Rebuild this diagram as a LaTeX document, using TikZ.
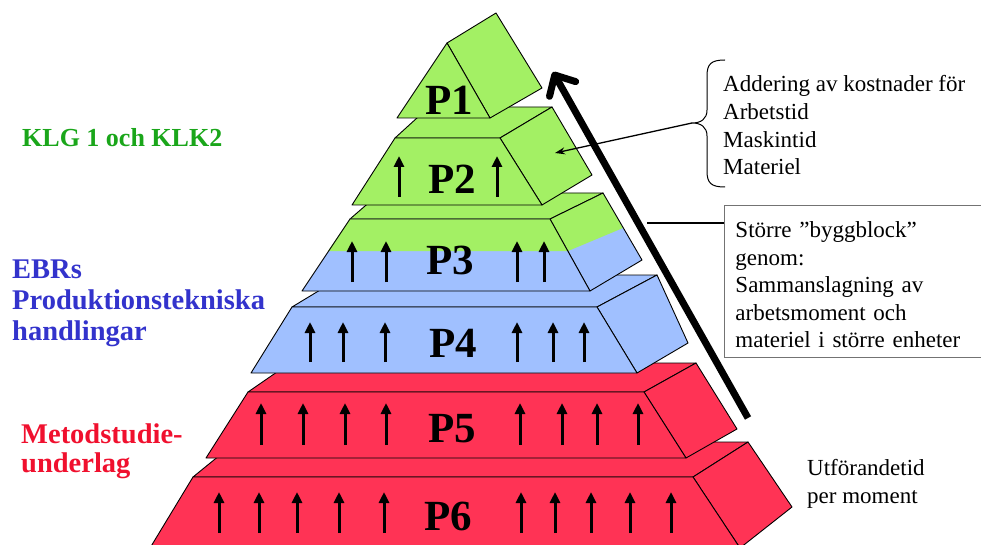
\documentclass[tikz,border=0pt]{standalone}
\usepackage{fontspec}
\setmainfont{Liberation Serif}
\usetikzlibrary{arrows.meta}
\definecolor{pgreen}{HTML}{A3F064}
\definecolor{pblue}{HTML}{A0C0FF}
\definecolor{pred}{HTML}{FF3355}
\definecolor{tgreen}{HTML}{1AA61A}
\definecolor{tblue}{HTML}{3333CC}
\definecolor{tred}{HTML}{F0102E}
\begin{document}
\begin{tikzpicture}[x=1pt,y=-1pt,
  face/.style={draw=black,line width=0.9pt,line join=round},
  uparrow/.style={line width=3pt,-{Triangle[length=11pt,width=10pt]}},
  plabel/.style={font=\fontsize{43}{43}\selectfont\bfseries,inner sep=0pt},
  sidelbl/.style={font=\fontsize{28.5}{31}\selectfont\bfseries,inner sep=0pt,align=left,anchor=base west},
  note/.style={font=\fontsize{23}{27.7}\selectfont,inner sep=0pt,align=left,anchor=base west}]
\useasboundingbox (0,0) rectangle (981,545);
% ---------- P6 ----------
\filldraw[face,fill=pred] (193,477) -- (236,442) -- (748,442) -- (693,477) -- cycle;
\filldraw[face,fill=pred] (693,477) -- (748,442) -- (792,507) -- (740,548) -- cycle;
\filldraw[face,fill=pred] (150,548) -- (193,477) -- (693,477) -- (740,548) -- cycle;
\foreach \x in {219,259,297,339,384,521,555,591,630,671} \draw[uparrow] (\x,533) -- (\x,492);
\node[plabel] (p6) at (448,516) {P6};
% ---------- P5 ----------
\filldraw[face,fill=pred] (248,392) -- (290,363) -- (696,363) -- (644,392) -- cycle;
\filldraw[face,fill=pred] (644,392) -- (696,363) -- (737,429) -- (686,458) -- cycle;
\filldraw[face,fill=pred] (206,458) -- (248,392) -- (644,392) -- (686,458) -- cycle;
\foreach \x in {261,303,345,386,520,562,597,638} \draw[uparrow] (\x,445) -- (\x,403);
\node[plabel] (p5) at (452,429) {P5};
% ---------- P4 ----------
\filldraw[face,fill=pblue] (292,307) -- (345,275) -- (657,275) -- (597,307) -- cycle;
\filldraw[face,fill=pblue] (597,307) -- (657,275) -- (688,343) -- (637,373) -- cycle;
\filldraw[face,fill=pblue] (251,373) -- (292,307) -- (597,307) -- (637,373) -- cycle;
\foreach \x in {310,343,385,517,553,584} \draw[uparrow] (\x,362) -- (\x,322);
\node[plabel] (p4) at (453,343) {P4};
% ---------- P3 ----------
\filldraw[face,fill=pgreen] (350,219) -- (380,193) -- (603,193) -- (550,219) -- cycle;
\fill[pblue] (550,219) -- (603,193) -- (642,260) -- (590,291) -- cycle;
\fill[pgreen] (550,219) -- (603,193) -- (623,228) -- (568,251) -- cycle;
\draw[face] (550,219) -- (603,193) -- (642,260) -- (590,291) -- cycle;
\fill[pblue] (302,291) -- (350,219) -- (550,219) -- (590,291) -- cycle;
\fill[pgreen] (350,219) -- (550,219) -- (568,251) -- (328,251) -- cycle;
\draw[face] (302,291) -- (350,219) -- (550,219) -- (590,291) -- cycle;
\foreach \x in {352,386,517,544} \draw[uparrow] (\x,282) -- (\x,241);
\node[plabel] (p3) at (450,260) {P3};
% ---------- P2 ----------
\filldraw[face,fill=pgreen] (395,138) -- (429,107) -- (552,107) -- (500,138) -- cycle;
\filldraw[face,fill=pgreen] (500,138) -- (552,107) -- (592,175) -- (542,205) -- cycle;
\filldraw[face,fill=pgreen] (352,205) -- (395,138) -- (500,138) -- (542,205) -- cycle;
\foreach \x in {399,497} \draw[uparrow] (\x,197) -- (\x,156);
\node[plabel] (p2) at (452,179) {P2};
% ---------- P1 ----------
\filldraw[face,fill=pgreen] (447,43) -- (496,13) -- (542,88) -- (490,118) -- cycle;
\filldraw[face,fill=pgreen] (397,118) -- (447,43) -- (490,118) -- cycle;
\node[plabel] (p1) at (449,100) {P1};
% ---------- big arrow ----------
\coordinate (bigfrom) at (748,418);
\coordinate (bigto) at (553,72);
\draw[line width=7pt,-{Straight Barb[length=16pt,width=30pt,round]}] (bigfrom) -- (bigto);
% ---------- left labels ----------
\node[sidelbl,text=tgreen,font=\fontsize{26}{31}\selectfont\bfseries] (klg) at (22,147) {KLG 1 och KLK2};
\node[sidelbl,text=tblue] (ebr) at (12,340) {EBRs\\Produktionstekniska\\handlingar};
\node[sidelbl,text=tred,font=\fontsize{28.5}{29}\selectfont\bfseries] (met) at (21,472) {Metodstudie-\\underlag};
% ---------- brace note ----------
\node[note] (add) at (723,175) {Addering av kostnader för\\Arbetstid\\Maskintid\\Materiel};
\coordinate (bracetip) at (692,123);
\coordinate (p2side) at (555,153);
\draw[line width=1pt] (725,60) .. controls (711,60) and (707,64) .. (707,76) -- (707,110)
  .. controls (707,119) and (701,123) .. (bracetip)
  .. controls (701,123) and (707,127) .. (707,136) -- (707,171)
  .. controls (707,183) and (711,187) .. (725,187);
\draw[line width=1.3pt,-{Stealth[length=10pt,width=7pt]}] (bracetip) -- (p2side);
% ---------- box note ----------
\node[draw=black!55,line width=0.9pt,anchor=north west,minimum width=280pt,minimum height=152pt,
  inner xsep=11pt,inner ysep=0pt,text width=258pt,align=left,font=\fontsize{23}{27.5}\selectfont] (box) at (724,205)
  {\rule{0pt}{23pt}Större ”byggblock”\\genom:\\Sammanslagning av\\arbetsmoment och\\materiel i större enheter};
\coordinate (boxlink) at (647,223);
\draw[line width=1pt] (boxlink) -- (box.west |- boxlink);
% ---------- bottom note ----------
\node[note,font=\fontsize{23}{28}\selectfont] (utf) at (807,503) {Utförandetid\\per moment};
\end{tikzpicture}
\end{document}
